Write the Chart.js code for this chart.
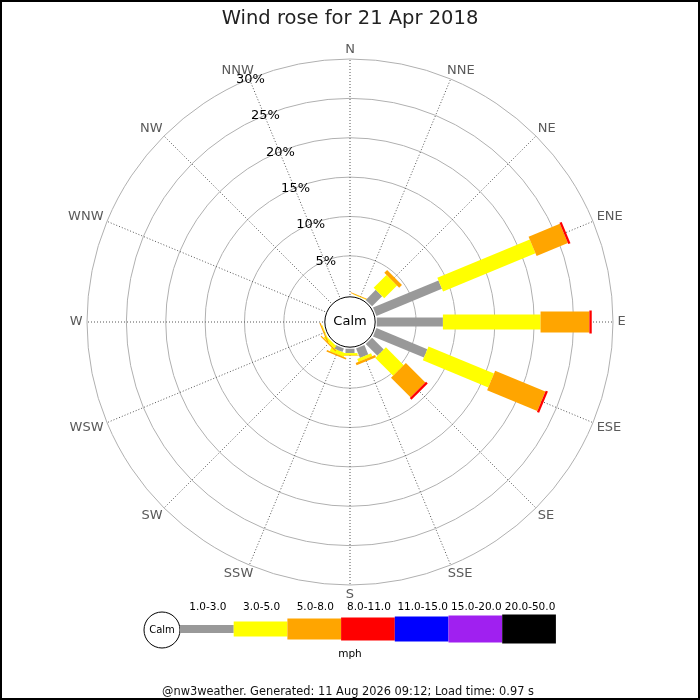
<!DOCTYPE html>
<html>
<head>
<meta charset="utf-8">
<title>Wind rose</title>
<script src="https://cdn.jsdelivr.net/npm/chart.js@4.4.0/dist/chart.umd.min.js"></script>
<style>
  body { margin: 0; background: #fff; }
  canvas { display: block; }
</style>
</head>
<body>
<canvas id="rose" width="700" height="700"></canvas>
<script>
// compass points, clockwise from north
const directions = ['N', 'NNE', 'NE', 'ENE', 'E', 'ESE', 'SE', 'SSE',
                    'S', 'SSW', 'SW', 'WSW', 'W', 'WNW', 'NW', 'NNW'];

// speed classes (mph)
const speedBins = ['1.0-3.0', '3.0-5.0', '5.0-8.0', '8.0-11.0', '11.0-15.0', '15.0-20.0', '20.0-50.0'];

// % of the day per direction, one array per speed class
const speed1to3   = [0, 0,    1.8, 9.0,  8.4,  7.0, 2.1, 1.3, 0.55, 0.5, 0,    0,    0, 0, 0, 0];
const speed3to5   = [0, 0.05, 2.3, 12.7, 12.4, 9.0, 3.2, 0.4, 0.3,  0.5, 0.4,  0.1,  0, 0, 0, 0];
const speed5to8   = [0, 0.1,  0.5, 4.3,  6.2,  6.9, 3.5, 0.3, 0.05, 0.2, 0.15, 0.15, 0, 0, 0, 0];
const speed8to11  = [0, 0,    0,   0.3,  0.3,  0.3, 0.3, 0,   0,    0,   0,    0,    0, 0, 0, 0];
const speed11to15 = [0, 0, 0, 0, 0, 0, 0, 0, 0, 0, 0, 0, 0, 0, 0, 0];
const speed15to20 = [0, 0, 0, 0, 0, 0, 0, 0, 0, 0, 0, 0, 0, 0, 0, 0];
const speed20to50 = [0, 0, 0, 0, 0, 0, 0, 0, 0, 0, 0, 0, 0, 0, 0, 0];

// ring labels (%)
const tickValues = [5, 10, 15, 20, 25, 30];

// styles
const binColors = ['#999999', '#ffff00', '#ffa500', '#ff0000', '#0000ff', '#a020f0', '#000000'];
const binWidths = [9, 15, 21, 23, 25, 27, 29];
const scaleMin = -3.4;   // leaves room for the calm circle in the middle
const FONT = 'DejaVu Sans';

const seriesValues = [speed1to3, speed3to5, speed5to8, speed8to11, speed11to15, speed15to20, speed20to50];

Chart.defaults.font.family = FONT;

// draws the stacked rose bars, calm circle, compass/ring labels and the key
const rosePlugin = {
    id: 'roseBars',
    afterDatasetsDraw(chart) {
        const scale = chart.scales.r;
        const ctx = chart.ctx;
        ctx.save();
        ctx.lineCap = 'butt';
        directions.forEach((dir, i) => {
            let cum = 0;
            chart.data.datasets.forEach((ds, d) => {
                const v = ds.data[i];
                if (v > 0) {
                    const a = scale.getPointPosition(i, scale.getDistanceFromCenterForValue(cum));
                    const b = scale.getPointPosition(i, scale.getDistanceFromCenterForValue(cum + v));
                    ctx.strokeStyle = ds.backgroundColor;
                    ctx.lineWidth = binWidths[d];
                    ctx.beginPath();
                    ctx.moveTo(a.x, a.y);
                    ctx.lineTo(b.x, b.y);
                    ctx.stroke();
                }
                cum += v;
            });
        });

        // calm circle
        const rc = scale.getDistanceFromCenterForValue(0) - 1.6;
        ctx.beginPath();
        ctx.arc(scale.xCenter, scale.yCenter, rc, 0, Math.PI * 2);
        ctx.fillStyle = '#fff';
        ctx.fill();
        ctx.lineWidth = 1;
        ctx.strokeStyle = '#000';
        ctx.stroke();
        ctx.fillStyle = '#000';
        ctx.font = '13px ' + FONT;
        ctx.textAlign = 'center';
        ctx.textBaseline = 'middle';
        ctx.fillText('Calm', scale.xCenter, scale.yCenter);
        ctx.restore();
    },
    afterDraw(chart) {
        const scale = chart.scales.r;
        const ctx = chart.ctx;
        ctx.save();
        ctx.textAlign = 'center';
        ctx.textBaseline = 'middle';

        // compass labels just outside the outer ring
        ctx.font = '13px ' + FONT;
        ctx.fillStyle = '#5a5a5a';
        const outer = scale.getDistanceFromCenterForValue(scale.max) + 4.5;
        directions.forEach((dir, i) => {
            const ang = i * Math.PI / 8;
            const s = Math.sin(ang), c = Math.cos(ang);
            const halfW = ctx.measureText(dir).width / 2;
            const halfH = 4.75;
            const p = scale.getPointPosition(i, outer);
            const dx = Math.sign(Math.round(s * 1e6)) * halfW * Math.sqrt(Math.abs(s));
            const dy = -Math.sign(Math.round(c * 1e6)) * halfH * Math.sqrt(Math.abs(c));
            ctx.fillText(dir, p.x + dx, p.y + dy);
        });

        // ring labels along the NNW spoke
        ctx.fillStyle = '#000';
        tickValues.forEach(v => {
            const p = scale.getPointPosition(15, scale.getDistanceFromCenterForValue(v));
            ctx.fillText(v + '%', p.x + 1, p.y + 0.5);
        });

        // key
        const ky = 629, kx = 180, segW = 53.7;
        ctx.beginPath();
        ctx.arc(162, ky + 1, 18, 0, Math.PI * 2);
        ctx.fillStyle = '#fff';
        ctx.fill();
        ctx.lineWidth = 1;
        ctx.strokeStyle = '#000';
        ctx.stroke();
        ctx.fillStyle = '#000';
        ctx.font = '10px ' + FONT;
        ctx.fillText('Calm', 162, ky + 1);

        ctx.font = '10.5px ' + FONT;
        speedBins.forEach((label, d) => {
            const x = kx + d * segW;
            const h = binWidths[d] - (d === 0 ? 1 : 0);
            ctx.fillStyle = binColors[d];
            ctx.fillRect(x, ky - h / 2, segW, h);
            ctx.fillStyle = '#000';
            ctx.fillText(label, x + segW / 2 + 1, 607);
        });
        ctx.fillText('mph', 350, 654);

        // footer
        ctx.font = '11.4px ' + FONT;
        ctx.fillStyle = '#111';
        ctx.fillText('@nw3weather. Generated: 11 Aug 2026 09:12; Load time: 0.97 s', 348, 692);

        // frame
        ctx.lineWidth = 2;
        ctx.strokeStyle = '#000';
        ctx.strokeRect(1, 1, 698, 698);
        ctx.restore();
    }
};

const canvas = document.getElementById('rose');

const roseChart = new Chart(canvas, {
    type: 'radar',
    data: {
        labels: directions,
        datasets: speedBins.map((bin, d) => ({
            label: bin,
            data: seriesValues[d],
            backgroundColor: binColors[d],
            borderWidth: 0,
            pointRadius: 0,
            pointHitRadius: 0,
            showLine: false,
            fill: false
        }))
    },
    options: {
        responsive: false,
        animation: false,
        devicePixelRatio: 1,
        events: [],
        layout: {
            padding: { left: 87, right: 87, top: 0, bottom: 96 }
        },
        plugins: {
            legend: { display: false },
            tooltip: { enabled: false },
            title: {
                display: true,
                text: 'Wind rose for 21 Apr 2018',
                color: '#222',
                font: { family: FONT, size: 19.5, weight: 'normal' },
                padding: { top: 7, bottom: 10.6 }
            }
        },
        scales: {
            r: {
                min: scaleMin,
                max: 30,
                afterBuildTicks: (s) => {
                    s.ticks = [scaleMin].concat(tickValues).map(v => ({ value: v }));
                },
                ticks: { display: false },
                grid: {
                    circular: true,
                    lineWidth: 1,
                    color: (c) => (c.tick && c.tick.value <= 0) ? 'rgba(0,0,0,0)' : '#b0b0b0'
                },
                angleLines: {
                    color: '#555',
                    lineWidth: 1,
                    borderDash: [1, 2]
                },
                pointLabels: { display: false }
            }
        }
    },
    plugins: [rosePlugin]
});
</script>
</body>
</html>
